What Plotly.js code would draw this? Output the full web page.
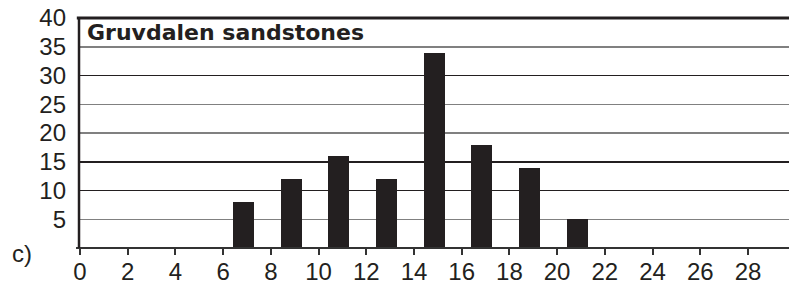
<!DOCTYPE html>
<html><head><meta charset="utf-8">
<script src="https://cdn.plot.ly/plotly-3.0.1.min.js"></script>
<style>html,body{margin:0;padding:0;background:#fff}#c{width:789px;height:284px}</style>
</head><body><div id="c"></div>
<script>
const grainSize = [7, 9, 11, 13, 15, 17, 19, 21];
const counts = [8, 12, 16, 12, 34, 18, 14, 5];
const xTicks = [0,2,4,6,8,10,12,14,16,18,20,22,24,26,28];
const yTicks = [5,10,15,20,25,30,35,40];
const darkGridTicks = [10, 15, 30];
const chartTitle = "Gruvdalen sandstones";
const panelLabel = "c)";

const data = [
  {type: 'bar', x: grainSize, y: counts, width: 0.88, offset: -0.59,
   marker: {color: '#231f20', line: {width: 0}}, hoverinfo: 'skip'},
  {type: 'scatter', x: [null], y: [null], yaxis: 'y2', showlegend: false, hoverinfo: 'skip'}
];
const layout = {
  width: 789, height: 284,
  margin: {l: 80, r: 0, t: 18, b: 36, pad: 0},
  paper_bgcolor: '#fff', plot_bgcolor: '#fff',
  showlegend: false, bargap: 0,
  font: {family: 'Liberation Sans, Arial, sans-serif', color: '#231f20', size: 24},
  xaxis: {
    range: [0, 29.72], tickvals: xTicks, ticktext: xTicks.map(String),
    showgrid: false, zeroline: false, showline: false,
    ticks: 'outside', ticklen: 6, tickwidth: 2, tickcolor: '#333',
    tickfont: {size: 24}, ticklabelstandoff: -4, fixedrange: true
  },
  yaxis: {
    range: [0, 40], tickvals: yTicks, ticktext: yTicks.map(String),
    showgrid: true, gridcolor: '#808080', gridwidth: 1.5,
    zeroline: false, showline: false,
    ticks: '', tickfont: {size: 24}, ticklabelstandoff: 13, fixedrange: true
  },
  yaxis2: {
    overlaying: 'y', range: [0, 40], tickvals: darkGridTicks,
    showgrid: true, gridcolor: '#231f20', gridwidth: 1.5,
    showticklabels: false, zeroline: false, showline: false, ticks: '', fixedrange: true
  },
  shapes: [
    {type: 'line', xref: 'paper', yref: 'paper', x0: -0.0045, x1: 1, y0: 1, y1: 1, layer: 'above', line: {color: '#231f20', width: 3}},
    {type: 'line', xref: 'paper', yref: 'paper', x0: -0.0056, x1: 1, y0: 0, y1: 0, layer: 'above', line: {color: '#333', width: 2}},
    {type: 'line', xref: 'paper', yref: 'paper', x0: -0.0014, x1: -0.0014, y0: 0, y1: 1, layer: 'above', line: {color: '#231f20', width: 2.5}}
  ],
  annotations: [
    {text: '<b>' + chartTitle + '</b>', xref: 'paper', yref: 'paper', x: 0.007, y: 1.0,
     xanchor: 'left', yanchor: 'top', showarrow: false,
     font: {family: 'DejaVu Sans, sans-serif', size: 22, color: '#231f20'}},
    {text: panelLabel, xref: 'paper', yref: 'paper', x: -0.082, y: -0.022,
     xanchor: 'center', yanchor: 'middle', showarrow: false,
     font: {size: 24, color: '#231f20'}}
  ]
};
Plotly.newPlot('c', data, layout, {displayModeBar: false, staticPlot: true});
</script></body></html>
